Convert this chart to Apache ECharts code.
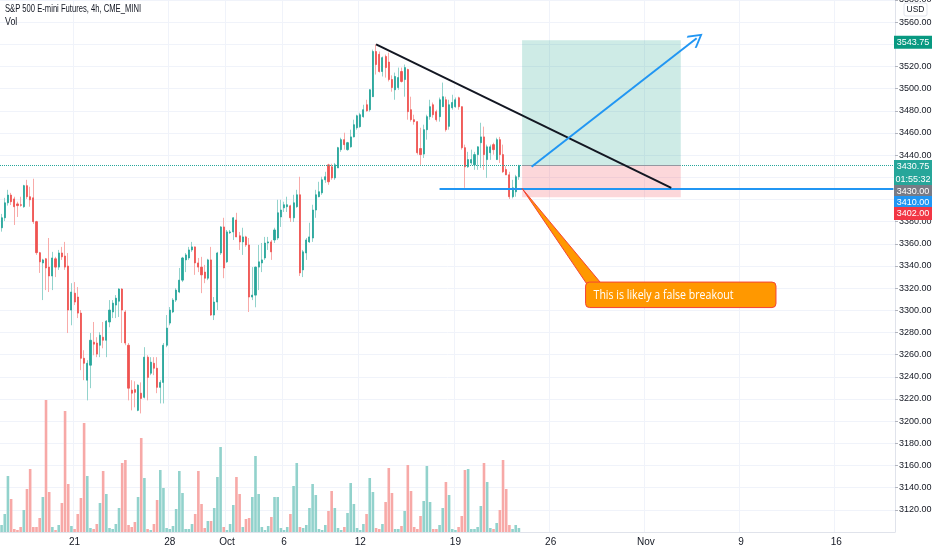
<!DOCTYPE html>
<html>
<head>
<meta charset="utf-8">
<script src="https://cdn.jsdelivr.net/npm/echarts@6/dist/echarts.min.js"></script>
<style>
  html, body { margin: 0; padding: 0; background: #fff; }
  #chart { width: 932px; height: 550px; }
</style>
</head>
<body>
<div id="chart"></div>
<script>
// ---- data ----
const days = ['Sep 15', 'Sep 16', 'Sep 17', 'Sep 18', 'Sep 21', 'Sep 22', 'Sep 23', 'Sep 24', 'Sep 25',
  'Sep 28', 'Sep 29', 'Sep 30', 'Oct 1', 'Oct 2', 'Oct 5', 'Oct 6', 'Oct 7', 'Oct 8', 'Oct 9',
  'Oct 12', 'Oct 13', 'Oct 14', 'Oct 15', 'Oct 16', 'Oct 19', 'Oct 20', 'Oct 21', 'Oct 22', 'Oct 23',
  'Oct 26', 'Oct 27', 'Oct 28', 'Oct 29', 'Oct 30', 'Nov 2', 'Nov 3', 'Nov 4', 'Nov 5', 'Nov 6',
  'Nov 9', 'Nov 10', 'Nov 11', 'Nov 12', 'Nov 13', 'Nov 16', 'Nov 17', 'Nov 18', 'Nov 19', 'Nov 20'];
const sessions = ['18:00', '22:00', '02:00', '06:00', '10:00', '14:00'];
const tickLabels = { 'Sep 21': '21', 'Sep 28': '28', 'Oct 1': 'Oct', 'Oct 6': '6', 'Oct 12': '12',
  'Oct 19': '19', 'Oct 26': '26', 'Nov 2': 'Nov', 'Nov 9': '9', 'Nov 16': '16' };

// [open, close, low, high]
const candles = [
  [3374.5, 3383.5, 3371, 3387], [3383.5, 3397, 3380.5, 3401.5], [3397, 3404, 3394.5, 3408.75],
  [3404, 3398, 3395, 3406], [3400.5, 3393.5, 3377, 3402.5], [3396, 3394.5, 3384.25, 3398],
  [3395.25, 3394.75, 3393.5, 3402.5], [3393.5, 3412.5, 3392.5, 3413.25], [3412.5, 3402.5, 3400.5, 3417.75],
  [3402.5, 3399.75, 3393.5, 3411.5], [3401.5, 3380, 3378, 3418.75], [3380, 3352, 3350, 3380.75],
  [3352, 3343.75, 3333.75, 3352.75], [3342.75, 3345.5, 3309.25, 3346.5], [3346.5, 3338.25, 3318.25, 3347.25],
  [3339, 3331, 3316.5, 3365.25], [3331, 3347.25, 3318.25, 3352.75], [3346.5, 3339, 3330, 3348.25],
  [3339, 3351.75, 3336.5, 3354.5], [3351.75, 3348.25, 3345.5, 3357.25], [3349, 3339, 3336.5, 3361.75],
  [3340, 3300.25, 3279.5, 3351.75], [3300.25, 3316.5, 3286.5, 3324.5], [3315.5, 3307.5, 3304.75, 3325.5],
  [3312, 3297.5, 3293, 3321], [3297.5, 3256.75, 3246, 3300.25], [3256.75, 3252.25, 3237, 3264],
  [3237, 3252.25, 3218.75, 3255], [3250.5, 3273, 3229.75, 3279.5], [3271.25, 3269.5, 3259.5, 3289.5],
  [3270.5, 3260.5, 3257.75, 3275.75], [3268.5, 3277.5, 3257.75, 3280.25], [3275.75, 3273, 3265.75, 3289.5],
  [3273, 3290.25, 3257.75, 3291.25], [3289.5, 3300.25, 3284.75, 3309.25], [3298.5, 3306.5, 3293, 3309.25],
  [3304.75, 3311, 3293, 3313.75], [3308.25, 3319.25, 3294, 3320], [3319.25, 3300.25, 3270.5, 3320],
  [3298.5, 3270.5, 3268.5, 3300.25], [3268.5, 3229.75, 3218.75, 3270.5], [3228, 3225.25, 3209.75, 3237],
  [3228.5, 3226, 3212.5, 3236], [3209.75, 3232.5, 3209, 3233.25], [3225.25, 3220.5, 3207, 3235],
  [3221.5, 3257.75, 3220.5, 3266.75], [3257.75, 3239.5, 3218.75, 3259.5], [3243.25, 3253.25, 3241.5, 3257.75],
  [3252.25, 3247.75, 3241.5, 3257.75], [3247.75, 3230.5, 3225.25, 3257.75], [3230.5, 3235, 3216, 3237],
  [3235, 3268.5, 3216, 3270.5], [3268.5, 3284, 3266.75, 3295.75], [3288.5, 3300.25, 3286.5, 3303],
  [3298.5, 3309.25, 3297.5, 3311], [3309.25, 3318.25, 3307.5, 3320], [3316.5, 3327.25, 3315.5, 3338.25],
  [3327.25, 3347.25, 3325.5, 3348.25], [3345.5, 3350, 3334.5, 3351.75], [3347.25, 3354.5, 3345.5, 3357.25],
  [3354.5, 3357.25, 3352.75, 3361.75], [3357.25, 3342.75, 3332, 3357.5], [3342.75, 3339, 3334.5, 3347.25],
  [3339, 3332, 3315.5, 3348.25], [3334.5, 3329, 3324.5, 3341], [3329, 3345.5, 3327.25, 3346.5],
  [3345.5, 3295.75, 3295, 3357.25], [3295.75, 3307.5, 3291.25, 3312], [3307.5, 3351.75, 3300.25, 3352.75],
  [3351.75, 3375.25, 3350, 3376], [3375.25, 3338.25, 3329, 3383.5], [3343.75, 3370.75, 3342.75, 3372.5],
  [3370, 3370.75, 3369, 3372.5], [3370.75, 3383.5, 3363.5, 3384], [3381.5, 3366.25, 3366, 3388],
  [3367.25, 3361.75, 3354.5, 3370.75], [3361.75, 3366.25, 3350, 3374.5], [3366.25, 3359, 3357.25, 3367.25],
  [3359, 3312, 3298.5, 3365.25], [3312, 3313.75, 3309.25, 3339], [3313.75, 3339, 3302.75, 3339.5],
  [3339, 3343.75, 3318.25, 3359], [3342.75, 3345.5, 3334.5, 3360.75], [3347.25, 3360.75, 3345.5, 3366.25],
  [3360.75, 3361.75, 3354.5, 3366.25], [3361.75, 3352.75, 3345.5, 3363.5], [3363.5, 3372.5, 3360.75, 3374.5],
  [3365.25, 3388, 3363.5, 3399.75], [3384.25, 3390.5, 3375.25, 3399.75], [3392.5, 3395.25, 3388.75, 3398],
  [3393.5, 3395.25, 3388.75, 3402.5], [3394.25, 3383.5, 3379.75, 3395.25], [3383.5, 3397, 3379.75, 3404.25],
  [3393.5, 3404.25, 3392.5, 3408.75], [3404.25, 3333.75, 3331, 3420.5], [3336.5, 3352.75, 3330, 3354.5],
  [3351.75, 3363.5, 3345.5, 3365.25], [3361.75, 3366.25, 3360.75, 3379], [3365.25, 3390.5, 3361.75, 3395.25],
  [3390.5, 3404.25, 3383.5, 3408.75], [3402.5, 3407, 3402, 3416], [3406, 3417.75, 3404.25, 3420.5],
  [3417.75, 3420.5, 3415, 3425], [3431.25, 3416, 3413.25, 3432.25], [3429.5, 3419.5, 3417.75, 3432.25],
  [3419.5, 3431.25, 3417.75, 3433], [3428.5, 3446.75, 3428.5, 3447.5], [3445, 3454, 3443, 3455.75],
  [3454, 3449.5, 3445, 3460.25], [3445, 3451.25, 3444, 3452], [3447.5, 3456.5, 3446.75, 3463],
  [3456.5, 3467.5, 3456, 3472], [3464.75, 3475.5, 3463, 3476.5], [3465.75, 3476.5, 3464.75, 3478.25],
  [3474.75, 3481, 3473.75, 3485.5], [3485.5, 3480, 3479.25, 3490], [3481, 3499, 3479.25, 3499.5],
  [3492.75, 3533.5, 3492.5, 3535.25], [3533.5, 3521.75, 3512.75, 3540], [3531, 3515.5, 3514.5, 3533.5],
  [3515.5, 3528, 3511, 3529], [3529, 3519, 3510, 3530.75], [3524, 3508.25, 3506.5, 3532.5],
  [3508.25, 3501, 3497.25, 3512], [3499, 3511, 3490, 3514.5], [3501, 3510, 3499, 3519],
  [3515.5, 3506.5, 3505.5, 3519], [3508.25, 3519, 3492.75, 3521.75], [3517.25, 3479.25, 3472, 3518],
  [3481, 3472, 3470.25, 3492.75], [3472, 3470.25, 3467.5, 3476.5], [3470.25, 3442.25, 3440.5, 3470.5],
  [3446, 3440.5, 3431.25, 3464.75], [3441, 3463, 3437.5, 3467.5], [3463, 3474.75, 3454, 3476.5],
  [3474.75, 3483.75, 3472, 3490], [3485.5, 3476.5, 3473.75, 3487.5], [3479.25, 3472, 3470.25, 3481],
  [3474.75, 3490, 3470.25, 3492], [3483.75, 3492.75, 3483.5, 3505.5], [3490, 3463, 3461.25, 3492.75],
  [3466, 3485.5, 3463, 3490], [3482.75, 3487.5, 3481, 3494.5], [3483.75, 3490, 3482.75, 3492],
  [3491.75, 3483.75, 3481, 3492.75], [3483.75, 3446.75, 3445, 3484], [3446.75, 3429.5, 3410.5, 3449.5],
  [3429.5, 3436, 3428.5, 3443], [3433, 3436, 3431.25, 3445], [3431.25, 3440.5, 3426.75, 3443],
  [3440.5, 3447.5, 3426.75, 3448], [3451.25, 3456.5, 3428.5, 3469.25], [3456.5, 3440.5, 3426.75, 3465.75],
  [3436, 3447.5, 3419.5, 3449.5], [3442.25, 3447.5, 3435.75, 3449.5], [3449.5, 3445, 3440.5, 3451.25],
  [3436, 3454, 3435.75, 3455.75], [3454, 3440.5, 3433, 3456.5], [3440.5, 3425, 3424, 3449.5],
  [3427, 3422.25, 3422, 3430], [3422.25, 3402.5, 3400.5, 3425], [3402.5, 3410.5, 3401, 3417.75],
  [3407, 3420.5, 3402.5, 3422.25], [3420.5, 3430.75, 3417.75, 3431.25]
];

// volume, thousands of contracts
const volumes = [
  28, 72, 224, 132, 12, 8, 20, 88, 172, 252, 20, 20, 56, 140, 528, 160, 20, 8, 28, 116,
  484, 192, 24, 12, 72, 136, 436, 224, 16, 12, 32, 116, 244, 152, 16, 12, 32, 96, 276, 288,
  28, 20, 40, 140, 376, 216, 12, 8, 32, 128, 248, 176, 16, 12, 24, 92, 244, 156, 12, 12,
  32, 72, 244, 112, 16, 44, 44, 96, 220, 340, 20, 8, 32, 108, 220, 152, 20, 52, 56, 140,
  304, 152, 20, 8, 24, 60, 140, 140, 16, 8, 20, 72, 184, 276, 20, 16, 28, 96, 192, 148,
  12, 8, 28, 84, 164, 96, 16, 8, 20, 76, 196, 112, 16, 8, 32, 72, 216, 160, 16, 12,
  32, 120, 256, 156, 12, 12, 24, 84, 268, 164, 20, 12, 64, 124, 264, 120, 12, 12, 28, 96,
  200, 148, 12, 8, 20, 64, 248, 252, 12, 12, 20, 104, 276, 200, 16, 12, 36, 88, 288, 172,
  28, 12, 28, 16
];

// drawings
const targetPrice = 3543.75;
const entryPrice = 3430.75;
const stopPrice = 3402;
const supportPrice = 3410;
const prevPrice = 3430;
const countdown = '01:55:32';
const trendFrom = [118, 3540];
const trendTo = [211, 3410.5];
const arrowFrom = [167, 3429.5];
const arrowTo = [219, 3545.5];
const boxFrom = 164;
const boxTo = 214;
const supportFrom = 138;
const noteText = 'This is likely a false breakout';
const notePoint = [164, 3410];
const noteTopLeft = [184, 3325.5];
const noteBottomRight = [244, 3302.5];

// ---- styling ----
const UP = '#26a69a';
const DOWN = '#ef5350';
const UP_LIGHT = '#93d3cc';
const DOWN_LIGHT = '#f8aba9';
const VOL_UP = '#92d2cc';
const VOL_DOWN = '#f7a9a7';
const GRID = '#f0f3fa';
const AXIS = '#e0e3eb';
const TEXT = '#131722';
const AXIS_FONT = 'Liberation Sans';

const categories = days.flatMap((d) => sessions.map((s) => d + ' ' + s)).slice(1, 283);
const dayOf = (c) => c.slice(0, c.lastIndexOf(' '));
const isTick = (c) => c.endsWith(' 18:00') && tickLabels[dayOf(c)] !== undefined;

const bodies = candles.map(([o, c]) => [o, c, Math.min(o, c), Math.max(o, c)]);
const volumeData = volumes.map((v, i) => ({
  value: v,
  itemStyle: { color: candles[i][1] >= candles[i][0] ? VOL_UP : VOL_DOWN },
}));

const chevron = 'path://M0,0 L10,10 L8.6,11.4 L0,2.8 L-8.6,11.4 L-10,10 Z';

const chart = echarts.init(document.getElementById('chart'), null, { renderer: 'canvas' });

chart.setOption({
  animation: false,
  backgroundColor: '#ffffff',
  grid: [
    { left: 0, right: 37, top: 0, bottom: 18, outerBoundsMode: 'none', containLabel: false },
    { left: 0, right: 37, top: 392, bottom: 18, outerBoundsMode: 'none', containLabel: false },
  ],
  xAxis: [
    {
      type: 'category',
      data: categories,
      boundaryGap: true,
      axisLine: { lineStyle: { color: AXIS } },
      axisTick: { show: false },
      axisLabel: {
        interval: (i, v) => isTick(v),
        formatter: (v) => tickLabels[dayOf(v)] || '',
        color: TEXT,
        fontSize: 10,
        fontFamily: AXIS_FONT,
        margin: 5,
      },
      splitLine: { show: true, interval: (i, v) => isTick(v), lineStyle: { color: GRID, width: 1 } },
    },
    {
      type: 'category',
      gridIndex: 1,
      data: categories,
      boundaryGap: true,
      show: false,
    },
  ],
  yAxis: [
    {
      type: 'value',
      position: 'right',
      min: 3100,
      max: 3580,
      interval: 20,
      axisLine: { show: true, lineStyle: { color: AXIS } },
      axisTick: { show: true, length: 3, lineStyle: { color: '#b2b5be' } },
      axisLabel: {
        formatter: (v) => v.toFixed(2),
        showMinLabel: false,
        color: TEXT,
        fontSize: 9,
        fontFamily: AXIS_FONT,
        margin: 4,
      },
      splitLine: { show: true, lineStyle: { color: GRID, width: 1 } },
    },
    { type: 'value', gridIndex: 1, min: 0, max: 560, show: false, splitLine: { show: false } },
  ],
  series: [
    {
      name: 'Volume',
      type: 'bar',
      xAxisIndex: 1,
      yAxisIndex: 1,
      data: volumeData,
      barWidth: '82%',
      silent: true,
    },
    {
      name: 'Wicks',
      type: 'candlestick',
      data: candles,
      barWidth: 1,
      silent: true,
      itemStyle: {
        color: UP_LIGHT, color0: DOWN_LIGHT,
        borderColor: UP_LIGHT, borderColor0: DOWN_LIGHT,
        borderWidth: 1,
      },
      // last-price line
      markLine: {
        silent: true,
        symbol: ['none', 'none'],
        label: { show: false },
        lineStyle: { color: '#26a69a', type: 'dotted', width: 1, opacity: 1 },
        emphasis: { disabled: true },
        data: [{ yAxis: entryPrice }],
      },
    },
    {
      name: 'ES1!',
      type: 'candlestick',
      data: bodies,
      barWidth: 1.6,
      silent: true,
      itemStyle: {
        color: UP, color0: DOWN,
        borderColor: UP, borderColor0: DOWN,
        borderWidth: 0.8,
      },
      markArea: {
        silent: true,
        data: [
          [
            { coord: [boxFrom, targetPrice], itemStyle: { color: 'rgba(8,153,129,0.2)' } },
            { coord: [boxTo, entryPrice] },
          ],
          [
            { coord: [boxFrom, entryPrice], itemStyle: { color: 'rgba(242,54,69,0.2)' } },
            { coord: [boxTo, stopPrice] },
          ],
        ],
      },
      markLine: {
        silent: true,
        symbol: ['none', 'none'],
        label: { show: false },
        data: [
          [
            { coord: [boxFrom, entryPrice], lineStyle: { color: '#9598a1', type: 'solid', width: 1 } },
            { coord: [boxTo, entryPrice] },
          ],
          [
            { coord: [supportFrom, supportPrice], lineStyle: { color: '#2196f3', type: 'solid', width: 2 } },
            { coord: [categories.length - 1, supportPrice] },
          ],
          [
            { coord: trendFrom, lineStyle: { color: TEXT, type: 'solid', width: 2 } },
            { coord: trendTo },
          ],
          [
            { coord: arrowFrom, symbol: 'none', lineStyle: { color: '#2196f3', type: 'solid', width: 2 } },
            { coord: arrowTo, symbol: chevron, symbolSize: [15, 15] },
          ],
        ],
      },
    },
  ],
});

// ---- overlays: title, price tags, callout ----
const ctx = document.createElement('canvas').getContext('2d');
const squeeze = (text, font, width) => {
  ctx.font = font;
  return Math.min(1, width / ctx.measureText(text).width);
};
const yOf = (v) => chart.convertToPixel({ yAxisIndex: 0 }, v);
const px = (p) => chart.convertToPixel({ gridIndex: 0 }, p);

const tag = (y, text, color) => [
  { type: 'rect', z: 100, shape: { x: 894, y: y - 6.5, width: 38, height: 13 }, style: { fill: color } },
  {
    type: 'text', z: 101, x: 913, y,
    style: { text, fill: '#ffffff', font: '9px "Liberation Sans"', align: 'center', verticalAlign: 'middle' },
  },
];

const titleText = 'S&P 500 E-mini Futures, 4h, CME_MINI';
const titleFont = '11px "Liberation Sans"';
const noteFont = '13px "Open Sans"';

const entryY = yOf(entryPrice);
const tip = px(notePoint);
const tl = px(noteTopLeft);
const br = px(noteBottomRight);
const noteH = br[1] - tl[1];

chart.setOption({
  graphic: [
    {
      type: 'text', x: 5, y: 9, scaleX: squeeze(titleText, titleFont, 136),
      style: { text: titleText, font: titleFont, fill: TEXT, verticalAlign: 'middle' },
    },
    {
      type: 'text', x: 5, y: 22, scaleX: 0.8,
      style: { text: 'Vol', font: titleFont, fill: TEXT, verticalAlign: 'middle' },
    },
    {
      type: 'rect', z: 100, shape: { x: 904, y: 3, width: 23, height: 13, r: 2 },
      style: { fill: '#ffffff', stroke: AXIS, lineWidth: 1 },
    },
    {
      type: 'text', z: 101, x: 915.5, y: 9.5,
      style: { text: 'USD', fill: TEXT, font: '8.5px "Liberation Sans"', align: 'center', verticalAlign: 'middle' },
    },
    ...tag(yOf(targetPrice) + 2, targetPrice.toFixed(2), '#089981'),
    ...tag(entryY + 1, entryPrice.toFixed(2), UP),
    ...tag(entryY + 14, countdown, UP),
    ...tag(entryY + 26, prevPrice.toFixed(2), '#787b86'),
    ...tag(entryY + 37, supportPrice.toFixed(2), '#2196f3'),
    ...tag(entryY + 48, stopPrice.toFixed(2), '#f23645'),
    {
      type: 'polygon', z: 110,
      shape: { points: [tip, [tl[0] + 2, tl[1] + 3], [tl[0] + 17, tl[1] + 3]] },
      style: { fill: '#ff9800', stroke: '#f44336', lineWidth: 1 },
    },
    {
      type: 'rect', z: 111,
      shape: { x: tl[0], y: tl[1], width: br[0] - tl[0], height: noteH, r: 4 },
      style: { fill: '#ff9800', stroke: '#f44336', lineWidth: 1 },
    },
    {
      type: 'text', z: 112, x: tl[0] + 8, y: tl[1] + noteH / 2,
      scaleX: squeeze(noteText, noteFont, 140),
      style: { text: noteText, font: noteFont, fill: '#ffffff', verticalAlign: 'middle' },
    },
  ],
});

window.addEventListener('resize', () => chart.resize());
</script>
</body>
</html>
